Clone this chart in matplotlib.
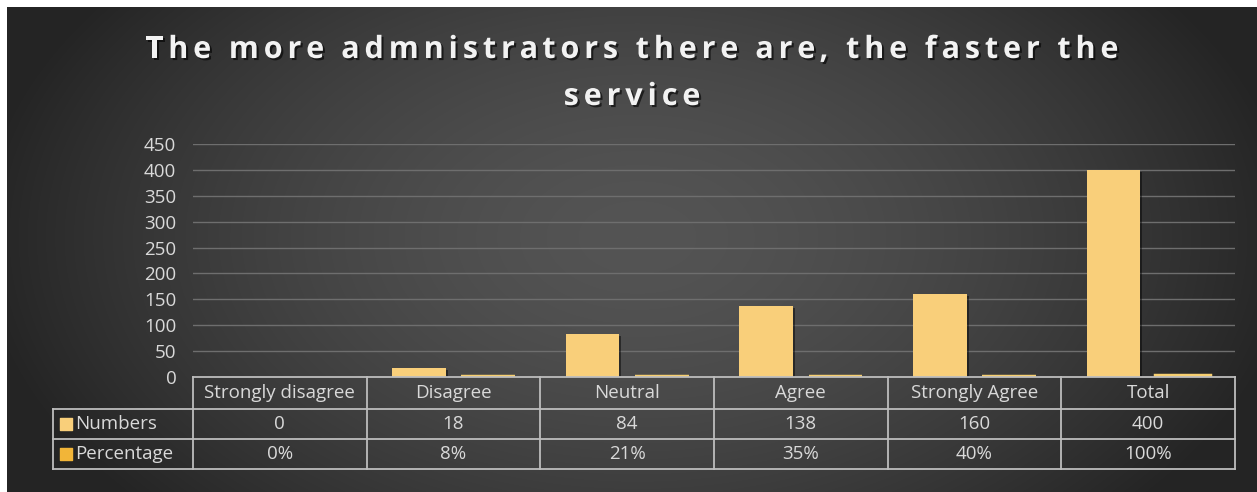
import matplotlib
matplotlib.use("Agg")
import matplotlib.pyplot as plt
import matplotlib.patheffects as pe
from matplotlib.font_manager import FontProperties
import numpy as np

W, H = 1257, 492

categories = ["Strongly disagree", "Disagree", "Neutral", "Agree", "Strongly Agree", "Total"]
numbers = [0, 18, 84, 138, 160, 400]
percentage = [0.00, 0.08, 0.21, 0.35, 0.40, 1.00]
series_names = ["Numbers", "Percentage"]
yticks = [0, 50, 100, 150, 200, 250, 300, 350, 400, 450]
title_lines = ["The more admnistrators there are, the faster the", "service"]

c_num = "#F9CF7A"
c_pct = "#F2B538"
c_text = "#D9D9D9"
c_line = "#BDBDBD"

plt.rcParams["font.family"] = ["Open Sans", "DejaVu Sans"]

fig = plt.figure(figsize=(W / 100, H / 100), dpi=100, facecolor="white")

# dark radial background (white margin on top and left)
bg = fig.add_axes([7 / W, 0, 1 - 7 / W, 1 - 7 / H])
yy, xx = np.mgrid[0:485, 0:1250]
d = np.sqrt(((xx - 630) / 680.0) ** 2 + ((yy - 230) / 420.0) ** 2)
val = np.clip(84 - 50 * d ** 1.6, 36, 90) / 255.0
bg.imshow(np.dstack([val, val, val]), aspect="auto", interpolation="bilinear")
bg.axis("off")

def px(x0, y0, x1, y1):
    return [x0 / W, 1 - y1 / H, (x1 - x0) / W, (y1 - y0) / H]

ax = fig.add_axes(px(193, 144, 1235, 377))
ax.patch.set_alpha(0)
x = np.arange(len(categories))
bw = 0.31
shadow = [pe.SimplePatchShadow(offset=(1.5, -1.5), shadow_rgbFace="black", alpha=0.45), pe.Normal()]
b1 = ax.bar(x - 0.2, numbers, bw, color=c_num, zorder=3)
b2 = ax.bar(x + 0.2, percentage, bw, color="#F7CF70", edgecolor="#F7CF70", zorder=3)
for r, v in zip(b2, percentage):
    r.set_linewidth(3.2 if v > 0 else 0)
for r in b1:
    r.set_path_effects(shadow)
ax.set_xlim(-0.5, len(categories) - 0.5)
ax.set_ylim(0, 450)
ax.set_yticks(yticks)
ax.set_yticklabels([str(t) for t in yticks], color=c_text, fontsize=13.5)
ax.tick_params(axis="y", length=0, pad=12)
ax.set_xticks([])
for t in yticks[1:]:
    ax.axhline(t, color="#6E6E6E", lw=1, zorder=1)
for s in ax.spines.values():
    s.set_visible(False)

# data table under the bars
tab = fig.add_axes(px(53, 377, 1235, 469))
tab.axis("off")
lab_w = 140 / ((1235 - 193) / len(categories))
x_left = -0.5 - lab_w
tab.set_xlim(x_left, len(categories) - 0.5)
tab.set_ylim(3, 0)
row_edges = [0, 32 / 92 * 3, 62 / 92 * 3, 3]
kw = dict(color=c_line, lw=1.3, clip_on=False)
tab.plot([-0.5, len(categories) - 0.5], [0, 0], **kw)
for yv in row_edges[1:]:
    tab.plot([x_left, len(categories) - 0.5], [yv, yv], **kw)
tab.plot([x_left, x_left], [row_edges[1], 3], **kw)
for i in range(len(categories) + 1):
    tab.plot([i - 0.5, i - 0.5], [0, 3], **kw)
mids = [(row_edges[k] + row_edges[k + 1]) / 2 for k in range(3)]
fs = 13.5
for i, c in enumerate(categories):
    tab.text(i, mids[0], c, ha="center", va="center", color=c_text, fontsize=fs)
    tab.text(i, mids[1], str(numbers[i]), ha="center", va="center", color=c_text, fontsize=fs)
    tab.text(i, mids[2], "%d%%" % round(percentage[i] * 100), ha="center", va="center",
             color=c_text, fontsize=fs)
for k, (name, col) in enumerate(zip(series_names, [c_num, c_pct])):
    tab.scatter([x_left + 0.075], [mids[k + 1]], marker="s", s=75, color=col, clip_on=False)
    tab.text(x_left + 0.13, mids[k + 1], name, ha="left", va="center", color=c_text, fontsize=fs)

# title with wide letter spacing
fig.canvas.draw()
rend = fig.canvas.get_renderer()
tprop = FontProperties(family=["Open Sans", "DejaVu Sans"], weight="bold", size=22)

def tracked(s, xc, ybase, track):
    widths = [0.0] + [rend.get_text_width_height_descent(s[:i], tprop, ismath=False)[0]
                      for i in range(1, len(s) + 1)]
    total = widths[-1] + track * (len(s) - 1)
    x0 = xc - total / 2
    for i, ch in enumerate(s):
        if ch == " ":
            continue
        fig.text((x0 + widths[i] + i * track) / W, 1 - ybase / H, ch, ha="left", va="baseline",
                 fontproperties=tprop, color="#F2F2F2",
                 path_effects=[pe.withSimplePatchShadow(offset=(1.5, -1.5), shadow_rgbFace="black",
                                                        alpha=0.6)])

tracked(title_lines[0], 632, 58, 4.9)
tracked(title_lines[1], 632, 105, 4.9)

fig.savefig("out.png", dpi=100, facecolor=fig.get_facecolor())
